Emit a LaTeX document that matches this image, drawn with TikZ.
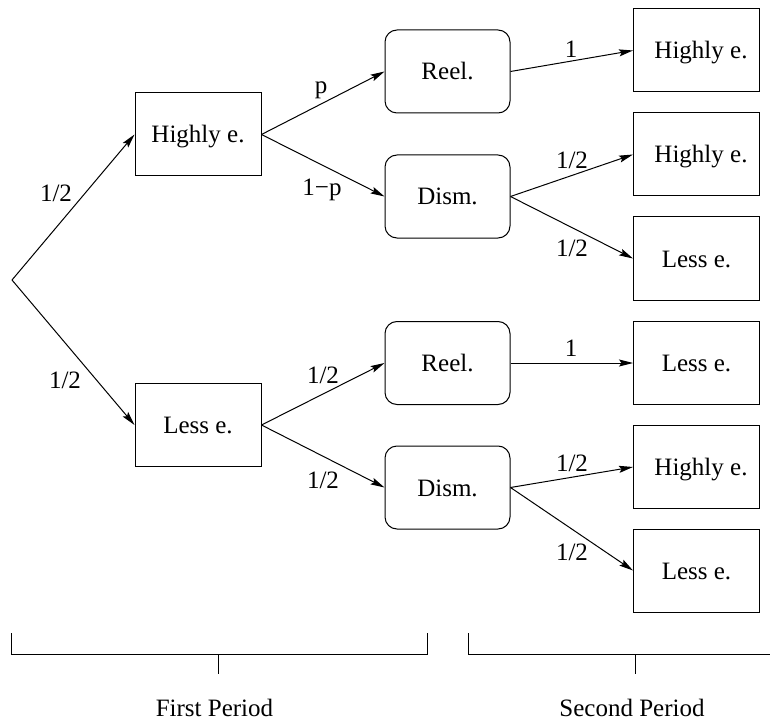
\documentclass[tikz,border=0pt]{standalone}
\usepackage{fontspec}
\setmainfont{Liberation Serif}
\usetikzlibrary{arrows.meta}
\begin{document}
\begin{tikzpicture}[x=1pt,y=-1pt, line width=1pt,
  box/.style={draw, rectangle, minimum width=126pt, minimum height=83pt, inner sep=0pt,
    text height=17pt, text depth=0pt, font=\fontsize{25}{30}\selectfont},
  rbox/.style={box, rounded corners=12pt, minimum width=125pt},
  lab/.style={inner sep=0pt, font=\fontsize{25}{30}\selectfont},
  arr/.style={-{Stealth[length=14pt,width=7pt,inset=2.5pt]}},
  bracket/.style={draw, line width=1pt}]
\useasboundingbox (0,0) rectangle (770,719);

\coordinate (root) at (12,280);
% first period
\node[box] (h1) at (198,134.5) {Highly e.};
\node[box] (l1) at (198,425) {Less e.};
\node[rbox] (r1) at (447.5,71.5) {Reel.};
\node[rbox] (d1) at (447.5,196.5) {Dism.};
\node[rbox] (r2) at (447.5,363) {Reel.};
\node[rbox] (d2) at (447.5,487.5) {Dism.};
% second period
\node[box] (o1) at (696.5,50.5) {\hspace*{9pt}Highly e.};
\node[box] (o2) at (696.5,154.5) {\hspace*{9pt}Highly e.};
\node[box] (o3) at (696.5,258.5) {Less e.};
\node[box] (o4) at (696.5,363) {Less e.};
\node[box] (o5) at (696.5,467) {\hspace*{9pt}Highly e.};
\node[box] (o6) at (696.5,570.5) {Less e.};

% connectors
\draw[arr] (root) -- (h1.west);
\draw[arr] (root) -- (l1.west);
\draw[arr] (h1.east) -- (r1.west);
\draw[arr] (h1.east) -- (d1.west);
\draw[arr] (l1.east) -- (r2.west);
\draw[arr] (l1.east) -- (d2.west);
\draw[arr] (r1.east) -- (o1.west);
\draw[arr] (d1.east) -- (o2.west);
\draw[arr] (d1.east) -- (o3.west);
\draw[arr] (r2.east) -- (o4.west);
\draw[arr] (d2.east) -- (o5.west);
\draw[arr] (d2.east) -- (o6.west);

% labels
\node[lab] (la) at (56,193) {1/2};
\node[lab] (lb) at (65,380) {1/2};
\node[lab] (lp) at (321,90) {p};
\node[lab] (lq) at (322,190) {1−p};
\node[lab] (lc) at (571,49) {1};
\node[lab] (ld) at (572,160) {1/2};
\node[lab] (le) at (572,248) {1/2};
\node[lab] (lf) at (323,375) {1/2};
\node[lab] (lg) at (323,480) {1/2};
\node[lab] (lh) at (571,348) {1};
\node[lab] (li) at (572,463) {1/2};
\node[lab] (lj) at (572,552) {1/2};

% period brackets
\draw[bracket] (11,633) -- (11,654) -- (427,654) -- (427,633);
\draw[bracket] (218,654) -- (218,674);
\draw[bracket] (468,633) -- (468,654) -- (770,654);
\draw[bracket] (635,654) -- (635,674);
\node[lab] (fp) at (214.5,707.5) {First Period};
\node[lab] (sp) at (632,707.5) {Second Period};
\end{tikzpicture}
\end{document}
